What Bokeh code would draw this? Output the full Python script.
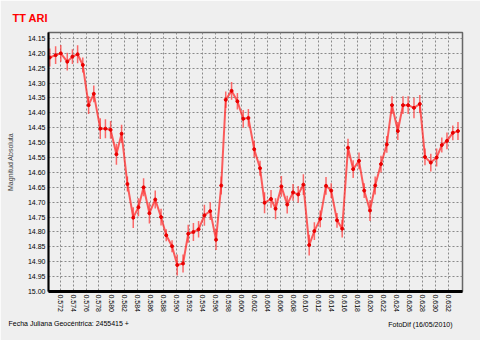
from bokeh.plotting import figure
from bokeh.models import Range1d, FixedTicker, NumeralTickFormatter, Title
from bokeh.embed import file_html
from bokeh.resources import INLINE

# Julian date offsets (2455415 +) and absolute magnitudes
jd = [0.5704, 0.5713, 0.5721, 0.5731, 0.5739, 0.5747, 0.5755, 0.5764, 0.5772, 0.5782,
      0.5790, 0.5798, 0.5807, 0.5815, 0.5824, 0.5833, 0.5841, 0.5849, 0.5858, 0.5867,
      0.5876, 0.5884, 0.5893, 0.5901, 0.5910, 0.5918,
      0.5926, 0.5934, 0.5943, 0.5952, 0.5961, 0.5969, 0.5976, 0.5985, 0.5994, 0.6003,
      0.6011, 0.6020, 0.6029, 0.6036, 0.6046, 0.6053, 0.6062, 0.6071, 0.6080, 0.6088,
      0.6096, 0.6105, 0.6113, 0.6122, 0.6131,
      0.6139, 0.6148, 0.6156, 0.6165, 0.6173, 0.6182, 0.6190, 0.6199, 0.6207, 0.6216,
      0.6225, 0.6233, 0.6242, 0.6250, 0.6258, 0.6267, 0.6276, 0.6284, 0.6293, 0.6302,
      0.6310, 0.6318, 0.6327, 0.6335]

mag = [14.214, 14.206, 14.200, 14.228, 14.211, 14.203, 14.239, 14.374, 14.336, 14.453,
       14.453, 14.457, 14.539, 14.470, 14.639, 14.752, 14.717, 14.650, 14.737, 14.691,
       14.750, 14.811, 14.848, 14.911, 14.906, 14.806,
       14.800, 14.791, 14.744, 14.730, 14.826, 14.644, 14.356, 14.326, 14.361, 14.420,
       14.417, 14.522, 14.586, 14.702, 14.689, 14.722, 14.647, 14.708, 14.667, 14.674,
       14.641, 14.844, 14.797, 14.756, 14.645,
       14.661, 14.761, 14.789, 14.517, 14.589, 14.561, 14.661, 14.728, 14.644, 14.572,
       14.506, 14.374, 14.461, 14.374, 14.374, 14.383, 14.370, 14.548, 14.567, 14.550,
       14.508, 14.494, 14.467, 14.461]

err = [0.030, 0.030, 0.028, 0.030, 0.025, 0.030, 0.025, 0.030, 0.028, 0.035,
       0.032, 0.030, 0.035, 0.030, 0.025, 0.035, 0.030, 0.030, 0.035, 0.030,
       0.028, 0.020, 0.020, 0.035, 0.030, 0.030,
       0.030, 0.028, 0.035, 0.030, 0.035, 0.030, 0.028, 0.030, 0.028, 0.030,
       0.030, 0.028, 0.025, 0.035, 0.030, 0.035, 0.035, 0.030, 0.028, 0.028,
       0.035, 0.035, 0.030, 0.028, 0.030,
       0.025, 0.025, 0.030, 0.030, 0.030, 0.028, 0.025, 0.035, 0.030, 0.028,
       0.028, 0.030, 0.030, 0.030, 0.030, 0.035, 0.030, 0.028, 0.030, 0.030,
       0.025, 0.028, 0.025, 0.030]

x_ticks = [0.572, 0.574, 0.576, 0.578, 0.580, 0.582, 0.584, 0.586, 0.588, 0.590,
           0.592, 0.594, 0.596, 0.598, 0.600, 0.602, 0.604, 0.606, 0.608, 0.610,
           0.612, 0.614, 0.616, 0.618, 0.620, 0.622, 0.624, 0.626, 0.628, 0.630, 0.632]
y_ticks = [14.15, 14.20, 14.25, 14.30, 14.35, 14.40, 14.45, 14.50, 14.55, 14.60,
           14.65, 14.70, 14.75, 14.80, 14.85, 14.90, 14.95, 15.00]

BG = "#efefef"
FONT = "Liberation Sans"

p = figure(width=480, height=340, output_backend="svg", toolbar_location=None,
           x_range=Range1d(0.5702, 0.6342), y_range=Range1d(15.00, 14.13),
           min_border_left=48, min_border_right=18, min_border_top=29, min_border_bottom=49,
           background_fill_color=BG, border_fill_color=BG)

p.outline_line_color = "#666666"
p.outline_line_width = 1.5

lo = [m - e for m, e in zip(mag, err)]
hi = [m + e for m, e in zip(mag, err)]
p.segment(x0=jd, y0=lo, x1=jd, y1=hi, line_color="#ff3b3b", line_width=1.5, line_alpha=0.75)
p.line(jd, mag, line_color="#ff2a2a", line_width=2, line_alpha=0.75)
p.scatter(jd, mag, size=3, color="#e80000")

for ax in (p.xaxis[0], p.yaxis[0]):
    ax.major_tick_out = 0
    ax.major_tick_in = 0
    ax.minor_tick_out = 0
    ax.minor_tick_in = 0
    ax.axis_line_color = "#000000"
    ax.major_label_text_font = FONT
    ax.major_label_text_font_size = "7px"
    ax.major_label_text_color = "#000000"
    ax.major_label_standoff = 3

p.xaxis.ticker = FixedTicker(ticks=x_ticks)
p.yaxis.ticker = FixedTicker(ticks=y_ticks)
p.xaxis.formatter = NumeralTickFormatter(format="0.000")
p.yaxis.formatter = NumeralTickFormatter(format="0.00")
p.xaxis.major_label_orientation = "vertical"
p.xaxis.axis_line_width = 3
p.yaxis.axis_line_width = 2

p.yaxis.axis_label = "Magnitud Absoluta"
p.yaxis.axis_label_text_font = FONT
p.yaxis.axis_label_text_font_size = "7px"
p.yaxis.axis_label_text_font_style = "normal"
p.yaxis.axis_label_standoff = 11

p.xgrid.grid_line_color = "#8a8a8a"
p.ygrid.grid_line_color = "#8a8a8a"
p.xgrid.grid_line_dash = "2 2"
p.ygrid.grid_line_dash = "2 2"
p.xgrid.grid_line_width = 1
p.ygrid.grid_line_width = 1

p.title.text = "TT ARI"
p.title.align = "left"
p.title.offset = -36
p.title.standoff = 18
p.title.text_color = "#ff0000"
p.title.text_font = FONT
p.title.text_font_size = "11px"
p.title.text_font_style = "bold"

p.add_layout(Title(text="Fecha Juliana Geocéntrica: 2455415 +", align="left", offset=-40,
                   standoff=4, text_font=FONT, text_font_size="7px",
                   text_font_style="normal", text_color="#000000"), "below")
p.add_layout(Title(text="FotoDif (16/05/2010)", align="right", offset=10,
                   vertical_align="top", standoff=-16, text_font=FONT, text_font_size="7px",
                   text_font_style="normal", text_color="#000000"), "below")

open("out.html", "w").write(file_html(p, INLINE))
